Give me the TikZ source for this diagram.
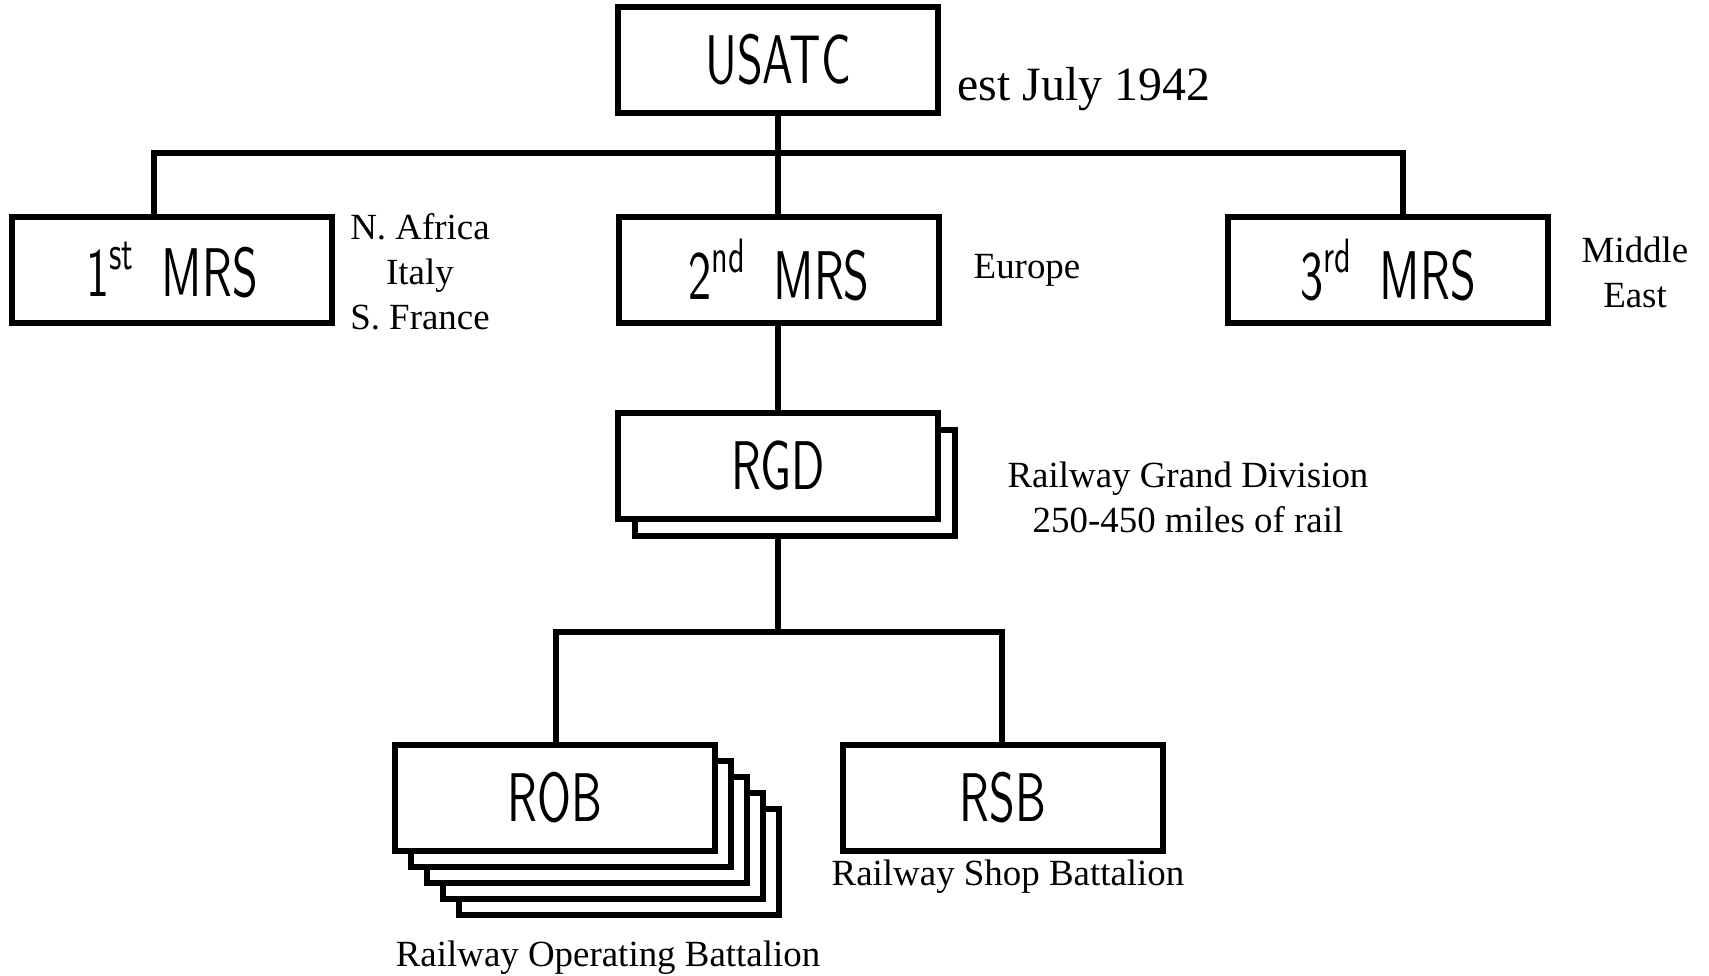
\documentclass[tikz,border=0pt]{standalone}
\usepackage{fontspec}
\setmainfont{Liberation Serif}
\newfontfamily\boxfont[FakeStretch=0.67]{lmsans10-regular.otf}
\usetikzlibrary{positioning, calc, backgrounds}
\tikzstyle{unit} = [rectangle, draw, line width=0.065cm, fill=white, outer sep=0pt,
  minimum width=3.2cm, minimum height=1.06cm, font=\boxfont\fontsize{19.6}{22}\selectfont]
\tikzstyle{stackbox} = [draw, line width=0.065cm, fill=white]
\tikzstyle{link} = [line width=0.065cm]
\tikzstyle{note} = [font=\fontsize{10.5}{12.8}\selectfont, align=center, inner sep=0pt]

\begin{document}
\begin{tikzpicture}
  \useasboundingbox (0,0) rectangle (17.09,-9.75);

  % boxes
  \node [unit] (usatc) at (7.78,-0.60) {USATC};
  \node [unit] (mrs1) at (1.72,-2.70) {1\textsuperscript{st}\, MRS};
  \node [unit] (mrs2) at (7.79,-2.70) {2\textsuperscript{nd}\, MRS};
  \node [unit] (mrs3) at (13.88,-2.70) {3\textsuperscript{rd}\, MRS};
  \node [unit] (rgd) at (7.78,-4.66) {RGD};
  \node [unit] (rob) at (5.55,-7.98) {ROB};
  \node [unit] (rsb) at (10.03,-7.98) {RSB};

  % copies behind
  \begin{scope}[on background layer]
    \draw [stackbox] ($(rgd.south west)+(0.17,-0.17)$) rectangle ($(rgd.north east)+(0.17,-0.17)$);
    \foreach \k in {4,3,2,1}
      \draw [stackbox] ($(rob.south west)+(\k*0.16,-\k*0.16)$) rectangle ($(rob.north east)+(\k*0.16,-\k*0.16)$);
  \end{scope}

  % lines
  \coordinate (b1) at (1.54,-1.53);
  \coordinate (b3) at (14.03,-1.53);
  \coordinate (b4) at (5.56,-6.32);
  \coordinate (b5) at (10.02,-6.32);
  \draw [link] (mrs1.north -| b1) -- (b1) -- (b3) -- (mrs3.north -| b3);
  \draw [link] (usatc.south) -- (usatc.south |- mrs2.north);
  \draw [link] (rgd.north |- mrs2.south) -- (rgd.north);
  \draw [link] (rob.north -| b4) -- (b4) -- (b5) -- (rsb.north -| b5);
  \draw [link] ($(rgd.south)+(0,-0.17)$) -- (rgd.south |- b4);

  % labels
  \node [note, anchor=west, font=\fontsize{13.6}{16}\selectfont] (est) at (9.57,-0.89) {est July 1942};
  \node [note] (africa) at (4.20,-2.72) {N. Africa\\Italy\\S. France};
  \node [note] (europe) at (10.27,-2.70) {Europe};
  \node [note] (mideast) at (16.35,-2.72) {Middle\\East};
  \node [note] (rgdnote) at (11.88,-4.97) {Railway Grand Division\\250-450 miles of rail};
  \node [note] (rsbnote) at (10.08,-8.77) {Railway Shop Battalion};
  \node [note] (robnote) at (6.08,-9.58) {Railway Operating Battalion};
\end{tikzpicture}
\end{document}
